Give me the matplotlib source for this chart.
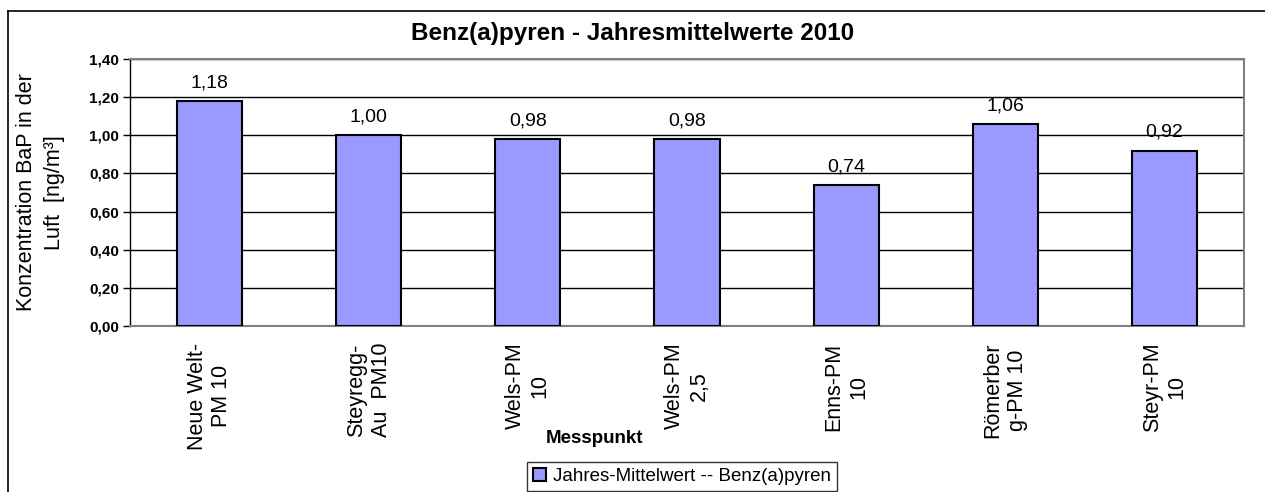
import matplotlib.pyplot as plt
from matplotlib.lines import Line2D
from matplotlib.ticker import FuncFormatter, MultipleLocator

plt.rcParams['font.family'] = ['Liberation Sans', 'DejaVu Sans']

stations = ['Neue Welt-\nPM 10', 'Steyregg-\nAu  PM10', 'Wels-PM\n10', 'Wels-PM\n2,5',
            'Enns-PM\n10', 'Römerber\ng-PM 10', 'Steyr-PM\n10']
values = [1.18, 1.00, 0.98, 0.98, 0.74, 1.06, 0.92]
labels = ['1,18', '1,00', '0,98', '0,98', '0,74', '1,06', '0,92']

fig = plt.figure(figsize=(12.65, 4.92), dpi=100)
ax = fig.add_axes([130 / 1265, 1 - 326 / 492, 1114 / 1265, 267 / 492])

# outer chart frame (left and top edges visible)
fig.add_artist(Line2D([8 / 1265, 8 / 1265], [0, 1 - 11 / 492], color='black', lw=1.2))
fig.add_artist(Line2D([8 / 1265, 1], [1 - 11 / 492, 1 - 11 / 492], color='black', lw=1.2))

x = range(len(stations))
bars = ax.bar(x, values, width=0.41, color='#9999FF', edgecolor='black', linewidth=1.5,
              zorder=3, label='Jahres-Mittelwert -- Benz(a)pyren')
for xi, v, lab in zip(x, values, labels):
    ax.annotate(lab, (xi, v), xytext=(0, 7), textcoords='offset points',
                ha='center', va='bottom', fontsize=14)

ax.set_xlim(-0.5, len(stations) - 0.5)
ax.set_ylim(0, 1.4)
ax.yaxis.set_major_locator(MultipleLocator(0.2))
ax.yaxis.set_major_formatter(FuncFormatter(lambda v, p: f'{v:.2f}'.replace('.', ',')))
ax.grid(axis='y', color='black', lw=1, zorder=0)

ax.set_xticks(list(x))
ax.set_xticklabels(stations, rotation=90, fontsize=15.5, multialignment='center',
                   linespacing=1.23)
ax.tick_params(axis='x', length=0, pad=12)
ax.tick_params(axis='y', length=5, width=1, labelsize=11, pad=3)
for t in ax.get_yticklabels():
    t.set_fontweight('bold')

for s in ['top', 'right', 'bottom']:
    ax.spines[s].set_color('#808080')
    ax.spines[s].set_linewidth(1.5)
ax.spines['left'].set_color('black')
ax.spines['left'].set_linewidth(1)

ax.set_ylabel('Konzentration BaP in der\nLuft  [ng/m³]', fontsize=15.5, linespacing=1.45)
ax.yaxis.set_label_coords(-0.058, 0.5)
ax.set_xlabel('Messpunkt', fontsize=13.5, fontweight='bold')
ax.xaxis.set_label_coords(0.417, -0.39)

fig.text(0.5, 1 - 33 / 492, 'Benz(a)pyren - Jahresmittelwerte 2010', ha='center', va='center',
         fontsize=17.5, fontweight='bold')

leg = fig.legend(loc='upper center', bbox_to_anchor=(682 / 1265, 1 - 453 / 492),
                 fontsize=13.5, frameon=True, fancybox=False, edgecolor='black',
                 handlelength=0.7, handleheight=0.7, handletextpad=0.4, borderpad=0.3)
leg.get_frame().set_linewidth(1)

fig.savefig('out.png', dpi=100)
